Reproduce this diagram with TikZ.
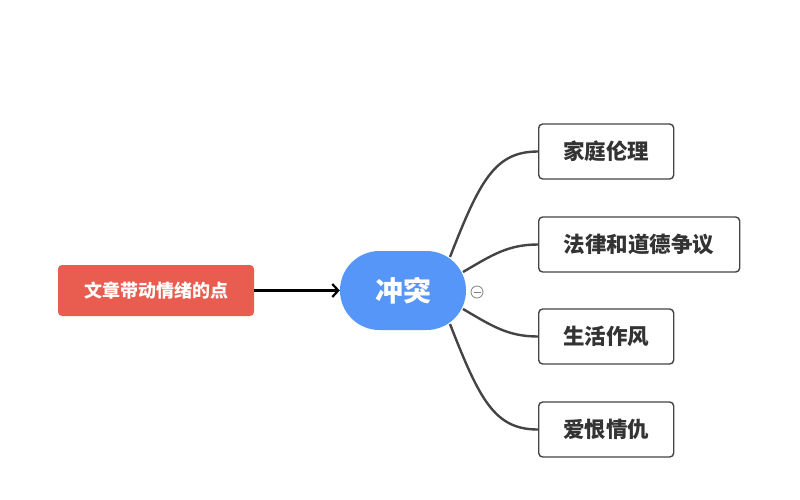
\documentclass[tikz,border=0pt]{standalone}
\usepackage{fontspec}
\newfontfamily\cjk{Noto Sans CJK SC}
\usetikzlibrary{arrows.meta,shapes.misc}
\definecolor{redbox}{HTML}{E85D4F}
\definecolor{bluec}{HTML}{5596F8}
\definecolor{edgec}{HTML}{444444}
\definecolor{textc}{HTML}{333333}
\tikzset{
  leaf/.style={draw=edgec,line width=1.4pt,rounded corners=4pt,fill=white,
    minimum height=55pt,anchor=west,inner xsep=0pt,
    font=\cjk\bfseries\fontsize{21.5}{24}\selectfont,text=textc},
  branch/.style={draw=edgec,line width=2.4pt},
  link/.style={draw=black,line width=2.2pt,-{Straight Barb[length=6pt,width=13pt,line width=2.2pt]}},
}
\begin{document}
\begin{tikzpicture}[x=1pt,y=-1pt]
\useasboundingbox (0,0) rectangle (800,499);
\node[fill=redbox,rounded corners=4pt,minimum width=196pt,minimum height=51pt,
  font=\cjk\bfseries\fontsize{18}{20}\selectfont,text=white,inner sep=0pt]
  (src) at (156,290.5) {文章带动情绪的点};
\node[rounded rectangle,fill=bluec,minimum width=126pt,minimum height=79pt,
  inner sep=0pt,font=\cjk\bfseries\fontsize{28}{30}\selectfont,text=white]
  (c) at (403,290.5) {冲突};
\draw[link] (src.east) -- (c.west);
\node[circle,draw=gray,line width=0.8pt,minimum size=12pt,inner sep=0pt,fill=white] (col) at (477,292) {};
\draw[gray,line width=0.8pt] ([xshift=-3.5pt]col.center) -- ([xshift=3.5pt]col.center);
\node[leaf,minimum width=135pt] (a) at (538,151.5) {家庭伦理};
\node[leaf,minimum width=201pt] (b) at (538,244.5) {法律和道德争议};
\node[leaf,minimum width=135pt] (d) at (538,336.5) {生活作风};
\node[leaf,minimum width=135pt] (e) at (538,429.5) {爱恨情仇};
\coordinate (s1) at (450,257);
\coordinate (s2) at (463,272);
\coordinate (s3) at (463,309);
\coordinate (s4) at (450,324);
\draw[branch] (s1) .. controls (480,180) and (495,151.5) .. (a.west);
\draw[branch] (s2) .. controls (492,255) and (508,244.5) .. (b.west);
\draw[branch] (s3) .. controls (492,326) and (508,336.5) .. (d.west);
\draw[branch] (s4) .. controls (480,401) and (495,429.5) .. (e.west);
\end{tikzpicture}
\end{document}
